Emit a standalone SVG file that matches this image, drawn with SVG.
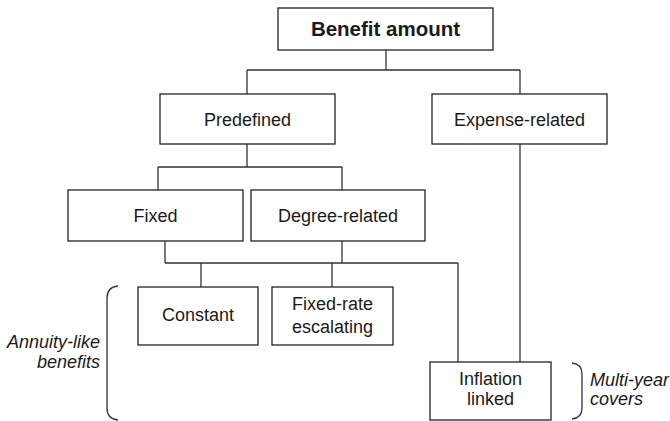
<svg xmlns="http://www.w3.org/2000/svg" width="670" height="421" viewBox="0 0 670 421">
<style>
.box{fill:#fff;stroke:#222;stroke-width:1.3}
.ln{fill:none;stroke:#333;stroke-width:1.3}
.t{font-family:"Liberation Sans",Arial,sans-serif;font-size:18px;fill:#1a1a1a;text-anchor:middle}
.b{font-weight:bold;font-size:20.5px}
.i{font-style:italic}
</style>
<rect width="670" height="421" fill="#fff"/>
<g id="connectors" class="ln">
<path d="M386,50V70M247,70H520M247,70V94M520,70V94"/>
<path d="M247,144V167M158,167H342M158,167V190M342,167V190"/>
<path d="M165,241V263M342,241V263M165,263H458M201,263V287M332,263V287M458,263V362"/>
<path d="M520,144V362"/>
</g>
<g id="benefit-amount"><rect class="box" x="278" y="8" width="215" height="42"/><text class="t b" x="385.5" y="36">Benefit amount</text></g>
<g id="predefined"><rect class="box" x="160" y="94" width="175" height="50"/><text class="t" x="247.5" y="125.5">Predefined</text></g>
<g id="expense-related"><rect class="box" x="432" y="94" width="175" height="50"/><text class="t" x="519.5" y="125.5">Expense-related</text></g>
<g id="fixed"><rect class="box" x="68" y="190" width="175" height="51"/><text class="t" x="155.5" y="222">Fixed</text></g>
<g id="degree-related"><rect class="box" x="251" y="190" width="174" height="51"/><text class="t" x="338" y="222">Degree-related</text></g>
<g id="constant"><rect class="box" x="138" y="287" width="120" height="58"/><text class="t" x="198" y="321">Constant</text></g>
<g id="fixed-rate-escalating"><rect class="box" x="272" y="287" width="121" height="58"/><text class="t" x="332.5" y="310">Fixed-rate</text><text class="t" x="332.5" y="333">escalating</text></g>
<g id="inflation-linked"><rect class="box" x="430" y="362" width="121" height="58"/><text class="t" x="490.5" y="385">Inflation</text><text class="t" x="490.5" y="405">linked</text></g>
<g id="annuity-like"><path class="ln" d="M118,286Q107,287 107,298V408Q107,419 118,420"/><text class="t i" x="100" y="348" style="text-anchor:end">Annuity-like</text><text class="t i" x="100" y="368" style="text-anchor:end">benefits</text></g>
<g id="multi-year"><path class="ln" d="M572,363Q582,364 582,374V408Q582,418 572,419"/><text class="t i" x="590" y="386" style="text-anchor:start">Multi-year</text><text class="t i" x="590" y="405" style="text-anchor:start">covers</text></g>
</svg>
